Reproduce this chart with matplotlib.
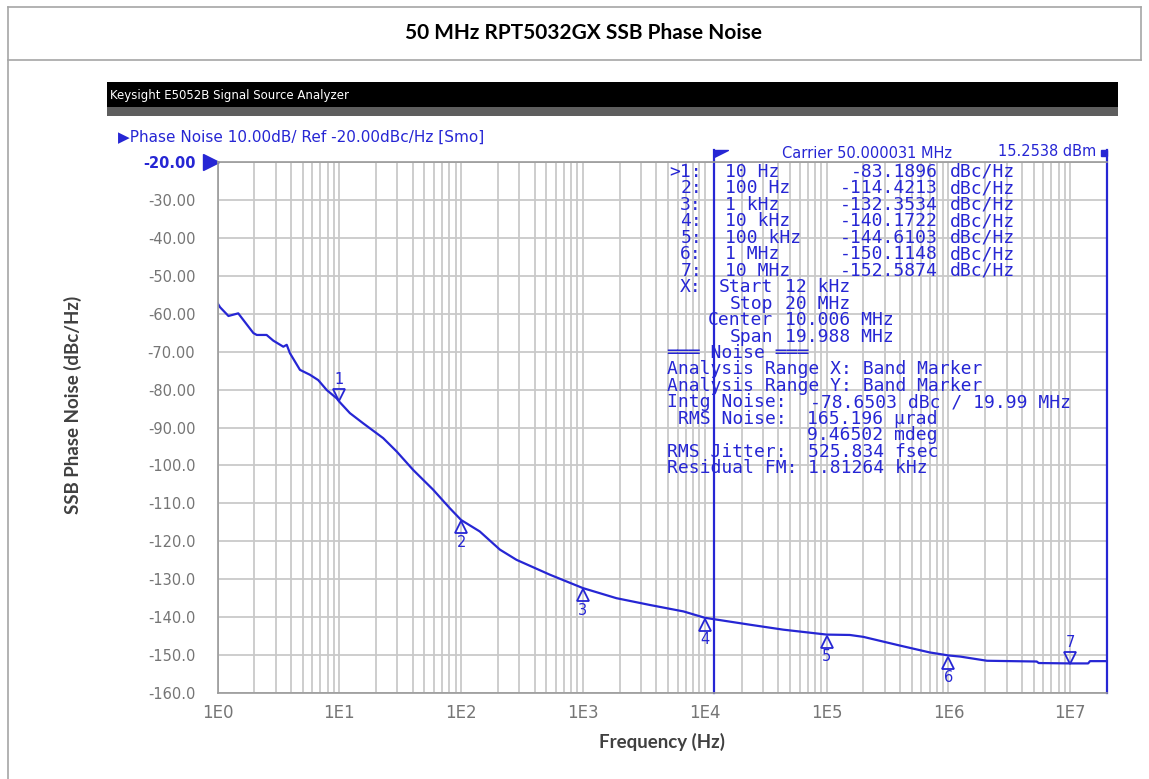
import matplotlib
matplotlib.use('Agg')
import matplotlib.pyplot as plt
from matplotlib.patches import Rectangle
from matplotlib.lines import Line2D
from matplotlib.ticker import LogLocator, NullFormatter
from matplotlib.transforms import offset_copy

W, H = 1149, 779

# SSB phase noise trace
freq = [1.0, 1.05, 1.23, 1.48, 1.97, 2.1, 2.53, 2.87, 3.47, 3.7, 3.93, 4.75,
        5.74, 6.71, 7.87, 9.5, 10, 12.2, 15.7, 22.9, 29.5, 40.4, 58.9, 80.8,
        100, 142, 208, 285, 534, 1e3, 1.88e3, 3.55e3, 6.7e3, 1e4, 2.35e4,
        4.4e4, 1e5, 1.55e5, 2e5, 4e5, 7e5, 1e6, 1.25e6, 1.5e6, 2.07e6, 5.3e6,
        5.5e6, 1e7, 1.4e7, 1.45e7, 2e7]
noise = [-57.2, -58.3, -60.6, -59.9, -65.1, -65.6, -65.6, -67.1, -68.7, -68.2,
         -70.4, -74.8, -76.1, -77.5, -80.1, -82.3, -83.2, -86.2, -88.9, -92.8,
         -96.3, -101.2, -106.4, -111.3, -114.4, -117.4, -122.2, -124.9, -128.8,
         -132.35, -135.0, -136.8, -138.5, -140.17, -142.0, -143.3, -144.6,
         -144.7, -145.2, -147.5, -149.3, -150.1, -150.4, -150.8, -151.5,
         -151.7, -152.1, -152.2, -152.2, -151.6, -151.6]

# marker table
marker_freq = [10, 100, 1e3, 1e4, 1e5, 1e6, 1e7]
marker_val = [-83.1896, -114.4213, -132.3534, -140.1722, -144.6103, -150.1148, -152.5874]
marker_label = ['10 Hz', '100 Hz', '1 kHz', '10 kHz', '100 kHz', '1 MHz', '10 MHz']
marker_above = [True, False, False, False, False, False, True]

band_start = 12e3
band_stop = 20e6

yticks = list(range(-20, -161, -10))
ytick_labels = ['%.2f' % v if v > -100 else '%.1f' % v for v in yticks]
xticks = [10 ** k for k in range(8)]
xtick_labels = ['1E%d' % k for k in range(8)]

blue = '#2626d4'
gray_txt = '#757575'


def fx(x):
    return x / W


def fy(y):
    return 1 - y / H


fig = plt.figure(figsize=(W / 100, H / 100), dpi=100)

# page frame and title row
frame = '#a6a6a6'
for xs, ys in [((8, 1141), (7, 7)), ((8, 1141), (59.5, 59.5)),
               ((8, 8), (7, 779)), ((1141, 1141), (7, 59.5))]:
    fig.add_artist(Line2D([fx(xs[0]), fx(xs[1])], [fy(ys[0]), fy(ys[1])],
                          color=frame, lw=1.2))
fig.text(fx(583), fy(33), '50 MHz RPT5032GX SSB Phase Noise', ha='center', va='center',
         fontsize=15, fontweight='bold', family='Lato', color='black')

# analyzer window bar
fig.add_artist(Rectangle((fx(107), fy(107)), fx(1118) - fx(107), fy(82) - fy(107),
                         transform=fig.transFigure, color='black', lw=0))
fig.add_artist(Rectangle((fx(107), fy(116)), fx(1118) - fx(107), fy(107) - fy(116),
                         transform=fig.transFigure, color='#5e5e5e', lw=0))
fig.text(fx(110), fy(95), 'Keysight E5052B Signal Source Analyzer', ha='left', va='center',
         fontsize=8.5, color='white')
fig.text(fx(118), fy(137), '\u25b6Phase Noise 10.00dB/ Ref -20.00dBc/Hz [Smo]', ha='left',
         va='center', fontsize=11, color=blue)

ax = fig.add_axes([fx(217.5), fy(693), fx(1107) - fx(217.5), fy(162) - fy(693)])
ax.set_xscale('log')
ax.set_xlim(1, 2e7)
ax.set_ylim(-160, -20)
ax.xaxis.set_minor_locator(LogLocator(base=10, subs=range(2, 10), numticks=30))
ax.xaxis.set_minor_formatter(NullFormatter())
ax.set_xticks(xticks, xtick_labels)
ax.set_yticks(yticks, ytick_labels)
ax.grid(True, which='both', color='#c9c9c9', lw=1.3)
ax.set_axisbelow(True)
ax.tick_params(which='both', length=0)
ax.tick_params(axis='y', pad=16, labelsize=10.5, labelcolor=gray_txt)
ax.tick_params(axis='x', pad=8, labelsize=12, labelcolor=gray_txt)
for lbl in ax.get_yticklabels():
    if lbl.get_text() == '-20.00':
        lbl.set_color(blue)
        lbl.set_fontweight('bold')
for side in ['left', 'bottom', 'top']:
    ax.spines[side].set_color('#999999')
    ax.spines[side].set_linewidth(1.2)
ax.spines['right'].set_visible(False)

# reference level arrow
ax.plot([1], [-20], marker='>', ms=11, color=blue, clip_on=False,
        transform=offset_copy(ax.transData, fig=fig, x=-7, units='dots'))

# band marker lines
ax.plot([band_start, band_start], [-160, -16.8], color=blue, lw=1.6, clip_on=False)
ax.plot([band_stop, band_stop], [-160, -16.8], color=blue, lw=1.6, clip_on=False)
ax.plot(band_start, -16.8, marker=[(0, 0), (1, 0), (0, -0.5), (0, 0)], ms=20,
        color=blue, clip_on=False)
ax.plot(band_stop, -17.6, marker='s', ms=5, color=blue, clip_on=False,
        transform=offset_copy(ax.transData, fig=fig, x=-3, units='dots'))

ax.plot(freq, noise, color=blue, lw=1.6)

for i, (f, v) in enumerate(zip(marker_freq, marker_val)):
    s = 1 if marker_above[i] else -1
    ax.plot(f, v, marker='v' if marker_above[i] else '^', ms=9, mfc='none', mec=blue,
            mew=1.3, transform=offset_copy(ax.transData, fig=fig, y=7 * s, units='dots'))
    ax.annotate(str(i + 1), xy=(f, v), xytext=(0, 22 * s), textcoords='offset pixels',
                ha='center', va='center', color=blue, fontsize=10.5)

ax.set_xlabel('Frequency (Hz)', fontsize=13.5, fontweight='bold', family='Lato',
              color='#404040', labelpad=8)
fig.text(fx(73), fy(405), 'SSB Phase Noise (dBc/Hz)', rotation=90, ha='center', va='center',
         fontsize=13.5, fontweight='bold', family='Lato', color='#404040')

# readout block
fig.text(fx(781.7), fy(153), 'Carrier 50.000031 MHz', ha='left', va='center',
         fontsize=10.5, color=blue)
fig.text(fx(998), fy(152), '15.2538 dBm', ha='left', va='center', fontsize=10.5, color=blue)


def t(x, row, s, ha='left'):
    fig.text(fx(x), fy(171.7 + row * 16.48), s, ha=ha, va='center',
             family='DejaVu Sans Mono', fontsize=13, color=blue)


for i in range(len(marker_freq)):
    t(702, i, ('>%d:' if i == 0 else '%d:') % (i + 1), 'right')
    t(725, i, marker_label[i])
    t(938, i, '%.4f' % marker_val[i], 'right')
    t(950, i, 'dBc/Hz')

t(702, 7, 'X:', 'right')
t(773, 7, 'Start', 'right')
t(785, 7, '12 kHz')
t(773, 8, 'Stop', 'right')
t(785, 8, '20 MHz')
t(773, 9, 'Center', 'right')
t(785, 9, '10.006 MHz')
t(773, 10, 'Span', 'right')
t(785, 10, '19.988 MHz')
t(666.7, 11, '\u2550\u2550\u2550 Noise \u2550\u2550\u2550')
t(666.7, 12, 'Analysis Range X: Band Marker')
t(666.7, 13, 'Analysis Range Y: Band Marker')
t(666.7, 14, 'Intg Noise:')
t(810, 14, '-78.6503 dBc / 19.99 MHz')
t(678.3, 15, 'RMS Noise:')
t(806.7, 15, '165.196 \u00b5rad')
t(806.7, 16, '9.46502 mdeg')
t(666.7, 17, 'RMS Jitter:')
t(808, 17, '525.834 fsec')
t(666.7, 18, 'Residual FM:')
t(808, 18, '1.81264 kHz')

fig.savefig('out.png', dpi=100)
